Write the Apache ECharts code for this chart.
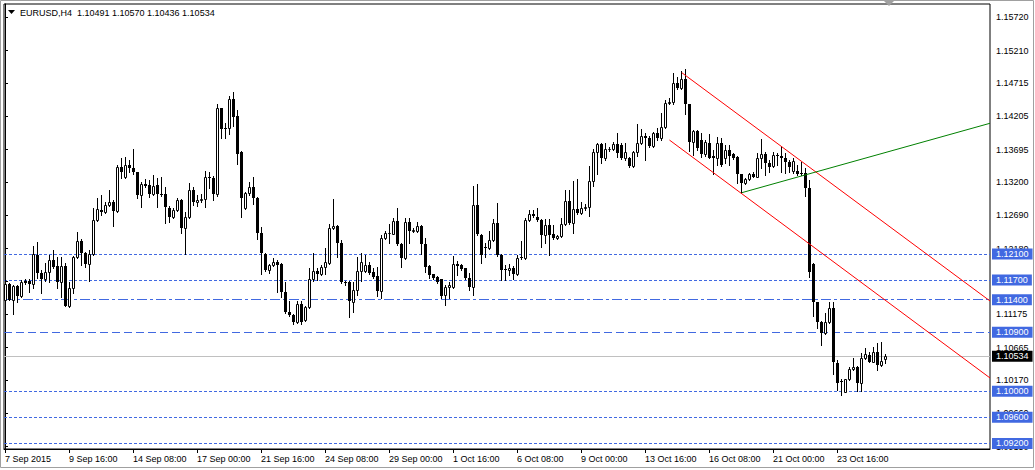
<!DOCTYPE html>
<html><head><meta charset="utf-8">
<script src="https://cdn.jsdelivr.net/npm/echarts@6/dist/echarts.min.js"></script>
<style>html,body{margin:0;padding:0;background:#fff}#c{width:1035px;height:470px}</style>
</head><body><div id="c"></div>
<script>
const symbolName = 'EURUSD,H4';
const opens = [1.11395,1.11635,1.11395,1.11610,1.11457,1.11681,1.11681,1.11635,1.12079,1.11804,1.11712,1.11824,1.12008,1.11916,1.11666,1.11916,1.11299,1.11574,1.12053,1.12298,1.12110,1.11941,1.12094,1.12614,1.12772,1.12747,1.12849,1.12900,1.12762,1.13430,1.13282,1.13456,1.13410,1.13349,1.12997,1.13170,1.13160,1.13022,1.13160,1.13022,1.13012,1.12798,1.12670,1.12772,1.12920,1.12502,1.12665,1.13073,1.12890,1.12920,1.12936,1.13277,1.13267,1.13012,1.14328,1.14022,1.14022,1.14471,1.14211,1.13660,1.12808,1.13027,1.13119,1.12951,1.12426,1.12094,1.11855,1.11926,1.11982,1.11941,1.11513,1.11217,1.11166,1.11054,1.11329,1.11090,1.11283,1.11712,1.11839,1.11788,1.11900,1.11957,1.12492,1.12523,1.12262,1.11666,1.11666,1.11370,1.11549,1.11839,1.11839,1.11931,1.11819,1.11767,1.11538,1.12349,1.12416,1.12411,1.12604,1.12247,1.12033,1.12594,1.12456,1.12446,1.12523,1.12247,1.11916,1.11793,1.11747,1.11712,1.11472,1.11599,1.11599,1.11946,1.11930,1.11880,1.11727,1.11599,1.12849,1.12389,1.12211,1.12185,1.12313,1.12568,1.12083,1.11864,1.11849,1.11890,1.11788,1.12058,1.12043,1.12619,1.12711,1.12660,1.12619,1.12390,1.12537,1.12405,1.12349,1.12374,1.12553,1.12910,1.12578,1.12792,1.12731,1.12808,1.12813,1.13216,1.13665,1.13777,1.13563,1.13700,1.13710,1.13777,1.13767,1.13563,1.13563,1.13450,1.13654,1.13792,1.13904,1.13868,1.13756,1.13945,1.13868,1.14047,1.14404,1.14420,1.14711,1.14644,1.14777,1.14389,1.13808,1.13981,1.13844,1.13624,1.13793,1.13604,1.13563,1.13793,1.13573,1.13690,1.13624,1.13589,1.13318,1.13181,1.13242,1.13318,1.13282,1.13563,1.13624,1.13486,1.13450,1.13614,1.13604,1.13573,1.13512,1.13369,1.13369,1.13333,1.13333,1.13104,1.11941,1.11360,1.11064,1.10885,1.11064,1.11268,1.10436,1.10156,1.09993,1.10181,1.10334,1.10375,1.10130,1.10503,1.10554,1.10452,1.10604,1.10401,1.10491];
const highs = [1.11702,1.11661,1.11625,1.11630,1.11702,1.11712,1.11717,1.12217,1.12288,1.11855,1.11957,1.12087,1.12160,1.12048,1.12048,1.11957,1.11676,1.12074,1.12441,1.12329,1.12135,1.12160,1.12798,1.12951,1.13002,1.12900,1.13073,1.12920,1.13461,1.13563,1.13588,1.13537,1.13706,1.13360,1.13206,1.13242,1.13232,1.13308,1.13267,1.13282,1.13130,1.12839,1.12798,1.12951,1.12940,1.12747,1.13180,1.13130,1.13002,1.13017,1.13369,1.13349,1.13298,1.14389,1.14340,1.14098,1.14517,1.14583,1.14302,1.13680,1.13053,1.13196,1.13277,1.12970,1.12518,1.12110,1.11940,1.12033,1.12008,1.11960,1.11676,1.11380,1.11180,1.11380,1.11380,1.11300,1.11880,1.12110,1.11890,1.11931,1.12196,1.12553,1.12936,1.12540,1.12313,1.11680,1.11690,1.11676,1.12048,1.12110,1.12084,1.11982,1.11890,1.11906,1.12390,1.12451,1.12553,1.12645,1.12798,1.12260,1.12655,1.12645,1.12492,1.12594,1.12540,1.12339,1.11930,1.11800,1.11760,1.11720,1.11620,1.11675,1.12068,1.11992,1.11945,1.11890,1.11803,1.13139,1.13170,1.12400,1.12272,1.12456,1.12634,1.12874,1.12100,1.11931,1.11946,1.11910,1.12083,1.12303,1.12645,1.12772,1.12772,1.12808,1.12640,1.12634,1.12634,1.12542,1.12390,1.12645,1.13078,1.13078,1.13216,1.13246,1.12900,1.12859,1.13450,1.13700,1.13792,1.13790,1.13792,1.13740,1.13807,1.13945,1.13792,1.13792,1.13588,1.13680,1.14083,1.14006,1.13955,1.13904,1.13960,1.14022,1.14261,1.14455,1.14481,1.14864,1.14813,1.14899,1.14930,1.14400,1.13996,1.13996,1.13945,1.13844,1.13930,1.13690,1.13895,1.13879,1.13767,1.13767,1.13640,1.13600,1.13330,1.13267,1.13333,1.13349,1.13640,1.13859,1.13655,1.13537,1.13655,1.13640,1.13752,1.13640,1.13537,1.13573,1.13461,1.13502,1.13410,1.13232,1.11960,1.11370,1.11075,1.11192,1.11370,1.11370,1.10480,1.10180,1.10190,1.10375,1.10500,1.10390,1.10579,1.10655,1.10604,1.10681,1.10732,1.10757,1.10570];
const lows = [1.11385,1.11390,1.11186,1.11370,1.11440,1.11640,1.11513,1.11574,1.11727,1.11498,1.11690,1.11676,1.11880,1.11574,1.11447,1.11299,1.11290,1.11498,1.12033,1.11931,1.11900,1.11686,1.12080,1.12600,1.12696,1.12722,1.12830,1.12523,1.12740,1.13257,1.13257,1.13359,1.13330,1.12951,1.12813,1.13120,1.12966,1.13000,1.12818,1.12990,1.12569,1.12594,1.12645,1.12750,1.12416,1.12099,1.12645,1.12849,1.12839,1.12900,1.12823,1.13104,1.12926,1.12990,1.13879,1.13879,1.13930,1.14063,1.13481,1.12670,1.12788,1.13002,1.12864,1.12324,1.11788,1.11840,1.11804,1.11910,1.11523,1.11447,1.11200,1.11150,1.11023,1.11040,1.11033,1.11077,1.11270,1.11690,1.11702,1.11770,1.11788,1.11940,1.12482,1.12058,1.11650,1.11630,1.11140,1.11217,1.11472,1.11686,1.11829,1.11790,1.11727,1.11462,1.11421,1.12330,1.12262,1.12400,1.12230,1.11906,1.12020,1.12262,1.12440,1.12430,1.12094,1.11829,1.11727,1.11717,1.11650,1.11421,1.11319,1.11421,1.11580,1.11778,1.11850,1.11710,1.11548,1.11472,1.12390,1.11966,1.12058,1.12170,1.12300,1.12070,1.11701,1.11701,1.11778,1.11711,1.11770,1.12020,1.12020,1.12600,1.12660,1.12600,1.12201,1.12272,1.12083,1.12330,1.12330,1.12360,1.12540,1.12560,1.12415,1.12710,1.12710,1.12772,1.12680,1.13139,1.13318,1.13496,1.13540,1.13670,1.13690,1.13578,1.13547,1.13540,1.13430,1.13430,1.13598,1.13780,1.13537,1.13740,1.13740,1.13850,1.13850,1.14030,1.14390,1.14400,1.14630,1.14630,1.14236,1.13675,1.13614,1.13690,1.13589,1.13600,1.13560,1.13318,1.13461,1.13440,1.13486,1.13461,1.13550,1.13181,1.13028,1.13170,1.13230,1.13270,1.13270,1.13410,1.13308,1.13359,1.13430,1.13461,1.13359,1.13333,1.13349,1.13333,1.13300,1.13300,1.12992,1.11750,1.11156,1.10962,1.10707,1.10870,1.11050,1.10258,1.10018,1.09942,1.09980,1.10170,1.10320,1.10010,1.10008,1.10490,1.10440,1.10440,1.10324,1.10390,1.10436];
const closes = [1.11635,1.11395,1.11610,1.11457,1.11671,1.11661,1.11635,1.12094,1.11804,1.11712,1.11824,1.12008,1.11906,1.11676,1.11916,1.11299,1.11574,1.12053,1.12298,1.12110,1.11941,1.12094,1.12614,1.12783,1.12747,1.12849,1.12890,1.12762,1.13430,1.13349,1.13456,1.13410,1.13349,1.12997,1.13170,1.13145,1.13022,1.13145,1.13022,1.13012,1.12813,1.12670,1.12772,1.12920,1.12502,1.12665,1.13073,1.12890,1.12920,1.12936,1.13277,1.13257,1.13012,1.14328,1.14007,1.14017,1.14471,1.14201,1.13634,1.12951,1.13027,1.13119,1.12951,1.12426,1.12110,1.11855,1.11926,1.11982,1.11931,1.11513,1.11217,1.11166,1.11054,1.11329,1.11054,1.11283,1.11712,1.11839,1.11788,1.11900,1.11972,1.12492,1.12523,1.12262,1.11666,1.11660,1.11380,1.11549,1.11839,1.11972,1.11931,1.11804,1.11752,1.11538,1.12349,1.12416,1.12426,1.12604,1.12247,1.12033,1.12594,1.12456,1.12461,1.12523,1.12257,1.11906,1.11778,1.11737,1.11676,1.11462,1.11599,1.11625,1.11946,1.11915,1.11864,1.11727,1.11599,1.12849,1.12405,1.12083,1.12196,1.12313,1.12568,1.12083,1.11854,1.11854,1.11880,1.11788,1.12033,1.12033,1.12619,1.12711,1.12680,1.12619,1.12390,1.12537,1.12390,1.12349,1.12374,1.12553,1.12910,1.12578,1.12792,1.12731,1.12808,1.12813,1.13216,1.13665,1.13777,1.13563,1.13700,1.13710,1.13777,1.13649,1.13563,1.13654,1.13450,1.13654,1.13792,1.13904,1.13868,1.13756,1.13945,1.13868,1.14037,1.14404,1.14420,1.14711,1.14644,1.14777,1.14389,1.13808,1.13981,1.13716,1.13624,1.13818,1.13573,1.13563,1.13793,1.13461,1.13690,1.13604,1.13573,1.13318,1.13181,1.13242,1.13318,1.13282,1.13563,1.13624,1.13486,1.13435,1.13614,1.13604,1.13573,1.13502,1.13435,1.13522,1.13318,1.13328,1.13114,1.11820,1.11360,1.11054,1.10885,1.11064,1.11268,1.10442,1.10130,1.10140,1.10181,1.10334,1.10365,1.10130,1.10503,1.10569,1.10452,1.10604,1.10401,1.10467,1.10534];

const tickBars = [0,16,32,48,64,80,96,112,128,144,160,176,192,208];
const tickLabels = ['7 Sep 2015','9 Sep 16:00','14 Sep 08:00','17 Sep 00:00','21 Sep 16:00','24 Sep 08:00','29 Sep 00:00','1 Oct 16:00','6 Oct 08:00','9 Oct 00:00','13 Oct 16:00','16 Oct 08:00','21 Oct 00:00','23 Oct 16:00'];
const priceTicks = [1.15720,1.15210,1.14715,1.14205,1.13695,1.13200,1.12690,1.12180,1.11675,1.11175,1.10665,1.10170,1.09660,1.09150];

const dottedLevels = [1.12100,1.11700,1.10000,1.09600,1.09200];
const dashDotLevels = [1.11400];
const dashedLevels = [1.10900];
const bidPrice = 1.10534;

const channelUpper = [[169.2,1.14873],[246.25,1.11380]];
const channelLower = [[166.1,1.13843],[246.25,1.10202]];
const greenLine = [[184.2,1.13037],[246.25,1.14099]];

const candleData = opens.map((o,i)=>[i,o,closes[i],lows[i],highs[i]]);
const FONT = 'Liberation Sans';
const BLUE = '#4169E1';

function levelItem(v, type, color, bg){
  return {yAxis:v, lineStyle:{color:color, type:type, width:1},
    label:{show:true, position:'end', distance:2, formatter:()=>v.toFixed(5),
      color:'#fff', backgroundColor:bg, padding:[1,4,0,4], fontSize:9, lineHeight:10, fontFamily:FONT}};
}
const markData = [];
dottedLevels.forEach(v=>markData.push(levelItem(v,[3,2],BLUE,BLUE)));
dashDotLevels.forEach(v=>markData.push(levelItem(v,[10,3,3,3],BLUE,BLUE)));
dashedLevels.forEach(v=>markData.push(levelItem(v,[8,4],BLUE,BLUE)));
markData.push(levelItem(bidPrice,'solid','#c0c0c0','#000'));

const chart = echarts.init(document.getElementById('c'), null, {renderer:'svg'});
const last = opens.length-1;
chart.setOption({
  animation:false,
  backgroundColor:'#fff',
  grid:{left:4,right:45,top:4,bottom:21,show:true,borderColor:'#000',borderWidth:1,backgroundColor:'transparent'},
  xAxis:{type:'value',min:-0.25,max:246.25,
    axisLine:{show:true,lineStyle:{color:'#000'}},
    axisTick:{show:true,length:4,customValues:tickBars,lineStyle:{color:'#000'}},
    axisLabel:{customValues:tickBars,formatter:v=>tickLabels[tickBars.indexOf(Math.round(v))]||'',
      align:'left',margin:5,color:'#000',fontSize:9,fontFamily:FONT},
    splitLine:{show:false}},
  yAxis:{type:'value',position:'right',min:1.09115,max:1.15924,scale:true,
    axisLine:{show:true,lineStyle:{color:'#000'}},
    axisTick:{show:true,length:3,customValues:priceTicks,lineStyle:{color:'#000'}},
    axisLabel:{customValues:priceTicks,formatter:v=>v.toFixed(5),margin:6,color:'#000',fontSize:9,fontFamily:FONT},
    splitLine:{show:false}},
  series:[
    {type:'custom',name:'candles',data:candleData,encode:{x:0,y:[1,2,3,4]},clip:true,silent:true,z:3,
      renderItem:function(params,api){
        const i=api.value(0),o=api.value(1),c=api.value(2),l=api.value(3),h=api.value(4);
        const pO=api.coord([i,o]),pC=api.coord([i,c]),pH=api.coord([i,h]),pL=api.coord([i,l]);
        const cx=Math.round(pO[0]);
        const yT=Math.round(Math.min(pO[1],pC[1])),yB=Math.round(Math.max(pO[1],pC[1]));
        const yH=Math.round(pH[1]),yL=Math.round(pL[1]);
        const ch=[{type:'line',shape:{x1:cx+0.5,y1:yH,x2:cx+0.5,y2:yL+1},style:{stroke:'#000',lineWidth:1}}];
        if(c>=o){
          ch.push({type:'rect',shape:{x:cx-0.5,y:yT+0.5,width:2,height:Math.max(yB-yT,0)},style:{fill:'#fff',stroke:'#000',lineWidth:1}});
        } else {
          ch.push({type:'rect',shape:{x:cx-1,y:yT,width:3,height:Math.max(yB-yT,1)},style:{fill:'#000'}});
        }
        return {type:'group',children:ch};
      },
      markLine:{silent:true,symbol:['none','none'],precision:5,animation:false,data:markData,z:2}
    },
    {type:'line',data:channelUpper,showSymbol:false,symbol:'none',silent:true,lineStyle:{color:'#ff0000',width:1},z:4},
    {type:'line',data:channelLower,showSymbol:false,symbol:'none',silent:true,lineStyle:{color:'#ff0000',width:1},z:4},
    {type:'line',data:greenLine,showSymbol:false,symbol:'none',silent:true,lineStyle:{color:'#008000',width:1},z:4}
  ],
  graphic:[
    {type:'rect',shape:{x:0.5,y:0.5,width:1033,height:467},style:{fill:'none',stroke:'#a0a0a0',lineWidth:1},silent:true,z:0},
    {type:'polygon',shape:{points:[[8,10],[15,10],[11.5,14]]},style:{fill:'#000'},silent:true},
    {type:'polygon',shape:{points:[[884,1],[894,1],[889,6]]},style:{fill:'#a0a0a0'},silent:true},
    {type:'text',x:20,y:13,style:{text:symbolName+'  '+[opens[last],highs[last],lows[last],closes[last]].map(v=>v.toFixed(5)).join(' '),
      fill:'#000',font:'9px "Liberation Sans"',verticalAlign:'middle'},silent:true}
  ]
});
</script></body></html>
